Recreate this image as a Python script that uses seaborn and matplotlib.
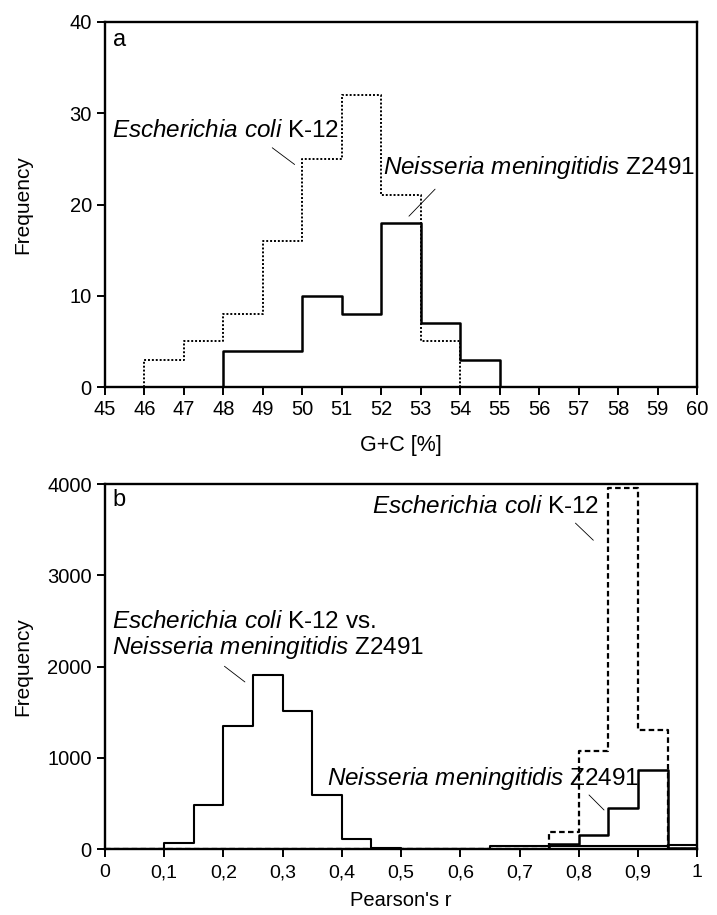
import numpy as np
import pandas as pd
import seaborn as sns
import matplotlib.pyplot as plt

# panel a: G+C content histograms (bin counts)
gc_edges = list(range(45, 61))
ecoli_gc = [0, 3, 5, 8, 16, 25, 32, 21, 5, 0, 0, 0, 0, 0, 0]
nmen_gc = [0, 0, 0, 4, 4, 10, 8, 18, 7, 3, 0, 0, 0, 0, 0]
gc_ticks = list(range(45, 61))

# panel b: Pearson's r histograms, bins of 0.05
r_edges = [round(i * 0.05, 2) for i in range(21)]
vs_r = [0, 0, 70, 480, 1350, 1910, 1510, 590, 110, 15,
        0, 0, 0, 35, 35, 30, 30, 30, 30, 40]
ecoli_r = [0, 0, 0, 0, 0, 0, 0, 0, 0, 0,
           0, 0, 0, 0, 0, 190, 1070, 3960, 1310, 0]
nmen_r = [0, 0, 0, 0, 0, 0, 0, 0, 0, 0,
          0, 0, 0, 5, 5, 55, 150, 450, 870, 15]
r_ticks = [round(i * 0.1, 1) for i in range(11)]
r_ticklabels = ['0', '0,1', '0,2', '0,3', '0,4', '0,5', '0,6', '0,7', '0,8', '0,9', '1']

gc_df = pd.DataFrame({'x': [e + 0.5 for e in gc_edges[:-1]], 'ecoli': ecoli_gc, 'nmen': nmen_gc})
r_df = pd.DataFrame({'x': [e + 0.025 for e in r_edges[:-1]], 'ecoli': ecoli_r, 'vs': vs_r, 'nmen': nmen_r})

sns.set_style('ticks', {'axes.edgecolor': 'k', 'text.color': 'k', 'axes.labelcolor': 'k',
                        'xtick.color': 'k', 'ytick.color': 'k'})
plt.rcParams['font.family'] = ['Liberation Sans', 'DejaVu Sans']
plt.rcParams['mathtext.fontset'] = 'custom'
plt.rcParams['mathtext.it'] = 'Liberation Sans:italic'
plt.rcParams['mathtext.rm'] = 'Liberation Sans'
plt.rcParams['axes.linewidth'] = 1.7
plt.rcParams['xtick.major.width'] = 1.4
plt.rcParams['ytick.major.width'] = 1.4
plt.rcParams['xtick.major.size'] = 6
plt.rcParams['ytick.major.size'] = 6

fig = plt.figure(figsize=(7.17, 9.15), dpi=100)
ax1 = fig.add_axes([0.1464, 0.577, 0.826, 0.399])
ax2 = fig.add_axes([0.1464, 0.072, 0.826, 0.399])

ecoli_lab = r'$\it{Escherichia\ coli}$ K-12'
nmen_lab = r'$\it{Neisseria\ meningitidis}$ Z2491'
fs_txt = 17.5

#panel a
sns.histplot(data=gc_df, x='x', weights='ecoli', bins=gc_edges, element='step', fill=False,
             color='k', linestyle=(0, (1, 1)), linewidth=1.4, ax=ax1)
sns.histplot(data=gc_df, x='x', weights='nmen', bins=gc_edges, element='step', fill=False,
             color='k', linewidth=1.8, ax=ax1)
ax1.set_xlim(45, 60)
ax1.set_ylim(0, 40)
ax1.set_xticks(gc_ticks)
ax1.set_yticks([0, 10, 20, 30, 40])
ax1.tick_params(labelsize=14.5)
ax1.set_xlabel('G+C [%]', fontsize=15.5)
ax1.xaxis.set_label_coords(0.5, -0.132)
ax1.set_ylabel('Frequency', fontsize=15)
ax1.yaxis.set_label_coords(-0.123, 0.5)
ax1.text(45.2, 38, 'a', fontsize=17, va='center')
ax1.text(45.18, 28.1, ecoli_lab, fontsize=fs_txt, va='center')
ax1.text(52.05, 24.0, nmen_lab, fontsize=fs_txt, va='center')
ax1.annotate('', xy=(49.86, 24.2), xytext=(49.18, 26.4),
             arrowprops=dict(arrowstyle='-', lw=0.6, color='k'))
ax1.annotate('', xy=(52.65, 18.5), xytext=(53.41, 21.9),
             arrowprops=dict(arrowstyle='-', lw=0.6, color='k'))

#panel b
sns.histplot(data=r_df, x='x', weights='ecoli', bins=r_edges, element='step', fill=False,
             color='k', linestyle=(0, (2.5, 1.5)), linewidth=1.6, ax=ax2)
sns.histplot(data=r_df, x='x', weights='vs', bins=r_edges, element='step', fill=False,
             color='k', linewidth=1.5, ax=ax2)
sns.histplot(data=r_df, x='x', weights='nmen', bins=r_edges, element='step', fill=False,
             color='k', linewidth=1.8, ax=ax2)
ax2.set_xlim(0, 1)
ax2.set_ylim(0, 4000)
ax2.set_xticks(r_ticks)
ax2.set_xticklabels(r_ticklabels)
ax2.set_yticks([0, 1000, 2000, 3000, 4000])
ax2.tick_params(axis='y', labelsize=14.5)
ax2.tick_params(axis='x', labelsize=14, pad=5)
ax2.set_xlabel("Pearson's r", fontsize=14.5)
ax2.xaxis.set_label_coords(0.5, -0.115)
ax2.set_ylabel('Frequency', fontsize=15)
ax2.yaxis.set_label_coords(-0.123, 0.5)
ax2.text(0.012, 3824, 'b', fontsize=17, va='center')
ax2.text(0.451, 3747, ecoli_lab, fontsize=fs_txt, va='center')
ax2.text(0.012, 2483, ecoli_lab + ' vs.', fontsize=fs_txt, va='center')
ax2.text(0.012, 2209, nmen_lab, fontsize=fs_txt, va='center')
ax2.text(0.375, 769, nmen_lab, fontsize=fs_txt, va='center')
ax2.annotate('', xy=(0.828, 3363), xytext=(0.791, 3593),
             arrowprops=dict(arrowstyle='-', lw=0.6, color='k'))
ax2.annotate('', xy=(0.240, 1813), xytext=(0.198, 2022),
             arrowprops=dict(arrowstyle='-', lw=0.6, color='k'))
ax2.annotate('', xy=(0.846, 407), xytext=(0.814, 615),
             arrowprops=dict(arrowstyle='-', lw=0.6, color='k'))

for ax in (ax1, ax2):
    for s in ax.spines.values():
        s.set_visible(True)

fig.savefig('out.png', dpi=100)
